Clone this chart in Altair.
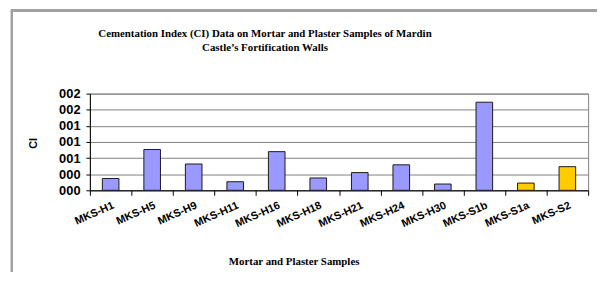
import altair as alt
import pandas as pd

samples = ["MKS-H1", "MKS-H5", "MKS-H9", "MKS-H11", "MKS-H16", "MKS-H18",
           "MKS-H21", "MKS-H24", "MKS-H30", "MKS-S1b", "MKS-S1a", "MKS-S2"]
ci = [0.22, 0.76, 0.49, 0.16, 0.72, 0.23, 0.33, 0.475, 0.117, 1.64, 0.135, 0.44]
kind = ["a"] * 10 + ["b"] * 2
y_ticks = [0, 0.3, 0.6, 0.9, 1.2, 1.5, 1.8]

df = pd.DataFrame({"sample": samples, "ci": ci, "kind": kind})

W, H = 505, 98

base = alt.Chart(df)

bars = base.mark_bar(stroke="#1a1a1a", strokeWidth=1, width=alt.RelativeBandSize(0.4)).encode(
    x=alt.X("sample:N", sort=samples,
            scale=alt.Scale(paddingInner=0, paddingOuter=0),
            axis=alt.Axis(title="Mortar and Plaster Samples", labelAngle=-24,
                          labelAlign="right", labelBaseline="top",
                          labelFont="Liberation Sans", labelFontWeight="bold",
                          labelFontSize=11, labelColor="#000", labelPadding=4,
                          tickBand="extent", tickSize=5, tickColor="#000",
                          domainColor="#000", grid=False,
                          titleFont="Liberation Serif", titleFontSize=11,
                          titleFontWeight="bold", titleColor="#000",
                          titleX=W / 2 - 46, titleY=75, titleBaseline="alphabetic")),
    y=alt.Y("ci:Q", scale=alt.Scale(domain=[0, 1.8], nice=False),
            axis=alt.Axis(title="CI", values=y_ticks, format="03.0f",
                          labelFont="Liberation Sans", labelFontWeight="bold",
                          labelFontSize=13, labelColor="#000", labelPadding=6,
                          tickSize=4, tickColor="#000", domainColor="#000",
                          gridColor="#808080", gridWidth=1,
                          titleFont="Liberation Sans", titleFontSize=11,
                          titleFontWeight="bold", titleColor="#000",
                          titleX=-57, titleY=H / 2 + 1, titleAngle=-90,
                          titleBaseline="middle", titleAlign="center")),
    color=alt.Color("kind:N", scale=alt.Scale(domain=["a", "b"], range=["#9999FF", "#FFCC00"]),
                    legend=None),
)

frame_left = base.mark_rule(color="#A0A0A0", strokeWidth=2).encode(
    x=alt.value(-79), y=alt.value(-84), y2=alt.value(H + 120))
frame_top = base.mark_rule(color="#A0A0A0", strokeWidth=2).encode(
    x=alt.value(-80), x2=alt.value(W + 40), y=alt.value(-84))

chart = alt.layer(frame_left, frame_top, bars).properties(
    width=W, height=H,
    title=alt.Title(
        text=["Cementation Index (CI) Data on Mortar and Plaster Samples of Mardin",
              "Castle\u2019s Fortification Walls"],
        font="Liberation Serif", fontSize=11, fontWeight="bold", color="#000",
        anchor="middle", dx=-75, offset=-44, lineHeight=14),
    autosize=alt.AutoSizeParams(type="none"),
    padding={"left": 83, "top": 85, "right": 9, "bottom": 81},
).configure_view(stroke="#808080", strokeWidth=1)

chart.save("out.html", embed_options={"renderer": "svg", "actions": False})
